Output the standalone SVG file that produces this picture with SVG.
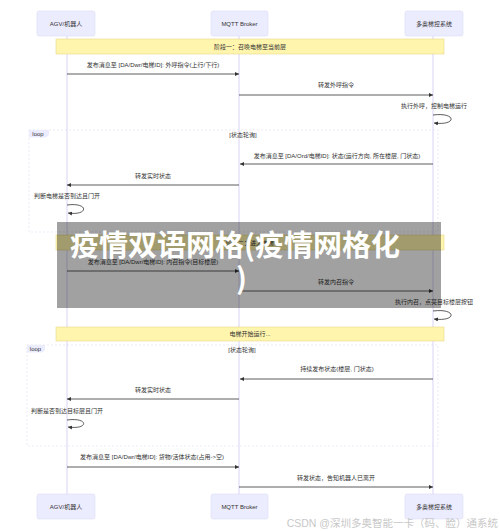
<svg xmlns="http://www.w3.org/2000/svg" width="500" height="531" viewBox="0 0 500 531">
<defs>
<style>
.t{font-family:"Liberation Sans","Noto Sans CJK SC",sans-serif;font-size:6px;fill:#333;text-anchor:middle}
.actor rect{fill:#ececff;stroke:#dcdcf5;stroke-width:0.6}
.life{stroke:#d9d5f5;stroke-width:1}
.msg{stroke:#333;stroke-width:0.8;fill:none}
.note{fill:#fff5ad;stroke:#e3d78a;stroke-width:0.6}
.loopbox{fill:none;stroke:#dcdcf0;stroke-width:0.6;stroke-dasharray:2,2}
.tab{fill:#ececff;stroke:none}
</style>
<marker id="ah" viewBox="0 0 10 10" refX="10" refY="5" markerWidth="4" markerHeight="4" markerUnits="userSpaceOnUse" orient="auto">
<path d="M0,0 L10,5 L0,10 z" fill="#333"/>
</marker>
</defs>
<rect width="500" height="531" fill="#fff"/>

<g id="lifelines">
<line class="life" x1="67" y1="36" x2="67" y2="494"/>
<line class="life" x1="239" y1="36" x2="239" y2="494"/>
<line class="life" x1="433" y1="36" x2="433" y2="494"/>
</g>

<g id="actor-agv-top" class="actor"><rect x="37" y="11" width="58" height="25" rx="2"/><text class="t" x="66" y="26">AGV/机器人</text></g>
<g id="actor-mqtt-top" class="actor"><rect x="211" y="11" width="57" height="25" rx="2"/><text class="t" x="239.5" y="26">MQTT Broker</text></g>
<g id="actor-elev-top" class="actor"><rect x="405" y="11" width="58" height="25" rx="2"/><text class="t" x="434" y="26">多奥梯控系统</text></g>

<g id="actor-agv-bottom" class="actor"><rect x="37" y="494" width="58" height="25" rx="2"/><text class="t" x="66" y="509">AGV/机器人</text></g>
<g id="actor-mqtt-bottom" class="actor"><rect x="211" y="494" width="57" height="25" rx="2"/><text class="t" x="239.5" y="509">MQTT Broker</text></g>
<g id="actor-elev-bottom" class="actor"><rect x="405" y="494" width="58" height="25" rx="2"/><text class="t" x="434" y="509">多奥梯控系统</text></g>

<g id="note1"><rect class="note" x="56" y="39" width="388" height="15"/><text class="t" x="250" y="48.5">阶段一：召唤电梯至当前层</text></g>

<g id="loop1">
<rect class="loopbox" x="29" y="130" width="409" height="102"/>
<polygon class="tab" points="29,130 49,130 49,135 46,137.5 29,137.5"/>
<text class="t" x="38" y="135.5">loop</text>
<text class="t" x="243" y="137">[状态轮询]</text>
</g>

<g id="note2"><rect class="note" x="56" y="235" width="388" height="15"/><text class="t" x="250" y="244.5">阶段二：进入电梯</text></g>

<g id="note3"><rect class="note" x="56" y="327" width="388" height="14"/><text class="t" x="250" y="336">电梯开始运行...</text></g>

<g id="loop2">
<rect class="loopbox" x="27" y="345" width="411" height="101"/>
<polygon class="tab" points="27,345 45,345 45,350 42,352.5 27,352.5"/>
<text class="t" x="35.5" y="350.5">loop</text>
<text class="t" x="242" y="351.5">[状态轮询]</text>
</g>

<g id="connectors">
<line class="msg" x1="67" y1="74" x2="239" y2="74" marker-end="url(#ah)"/>
<line class="msg" x1="239" y1="95" x2="433" y2="95" marker-end="url(#ah)"/>
<path class="msg" d="M433,115 C457,112 457,126 434,123" marker-end="url(#ah)"/>
<line class="msg" x1="433" y1="164" x2="240" y2="164" marker-end="url(#ah)"/>
<line class="msg" x1="239" y1="185" x2="67" y2="185" marker-end="url(#ah)"/>
<path class="msg" d="M67,205 C89,202 89,216 68,213" marker-end="url(#ah)"/>
<line class="msg" x1="67" y1="271" x2="239" y2="271" marker-end="url(#ah)"/>
<line class="msg" x1="239" y1="291" x2="433" y2="291" marker-end="url(#ah)"/>
<path class="msg" d="M433,311 C457,308 457,322 434,319" marker-end="url(#ah)"/>
<line class="msg" x1="433" y1="379" x2="240" y2="379" marker-end="url(#ah)"/>
<line class="msg" x1="239" y1="399" x2="67" y2="399" marker-end="url(#ah)"/>
<path class="msg" d="M67,420 C89,417 89,430 68,427" marker-end="url(#ah)"/>
<line class="msg" x1="67" y1="467" x2="239" y2="467" marker-end="url(#ah)"/>
<line class="msg" x1="239" y1="487" x2="433" y2="487" marker-end="url(#ah)"/>
</g>

<g id="labels">
<text class="t" x="153" y="67">发布消息至 [DA/Dwr/电梯ID]: 外呼指令(上行/下行)</text>
<text class="t" x="336" y="87">转发外呼指令</text>
<text class="t" x="434" y="108">执行外呼，控制电梯运行</text>
<text class="t" x="337" y="157.5">发布消息至 [DA/Ord/电梯ID]: 状态(运行方向, 所在楼层, 门状态)</text>
<text class="t" x="153" y="178">转发实时状态</text>
<text class="t" x="67" y="198">判断电梯是否到达且门开</text>
<text class="t" x="153" y="263.5">发布消息至 [DA/Dwr/电梯ID]: 内召指令(目标楼层)</text>
<text class="t" x="336" y="284">转发内召指令</text>
<text class="t" x="434" y="304">执行内召，点亮目标楼层按钮</text>
<text class="t" x="337" y="371">持续发布状态(楼层, 门状态)</text>
<text class="t" x="153" y="392">转发实时状态</text>
<text class="t" x="67" y="413">判断是否到达目标层且门开</text>
<text class="t" x="152" y="459">发布消息至 [DA/Dwr/电梯ID]: 货物/活体状态(占用-&gt;空)</text>
<text class="t" x="336" y="480">转发状态，告知机器人已离开</text>
</g>

<g id="overlay">
<rect x="57" y="222" width="384" height="86" fill="#000" opacity="0.37"/>
<text x="70" y="256" font-family="'Noto Sans CJK SC',sans-serif" font-size="29" font-weight="bold" fill="#fff">疫情双语网格(疫情网格化</text>
<text x="236" y="289" font-family="'Noto Sans CJK SC',sans-serif" font-size="29" font-weight="bold" fill="#fff">)</text>
</g>

<text x="498" y="527" text-anchor="end" font-family="'Liberation Sans','Noto Sans CJK SC',sans-serif" font-size="10.5" fill="#c8c8c8">CSDN @深圳多奥智能一卡（码、脸）通系统</text>
</svg>
